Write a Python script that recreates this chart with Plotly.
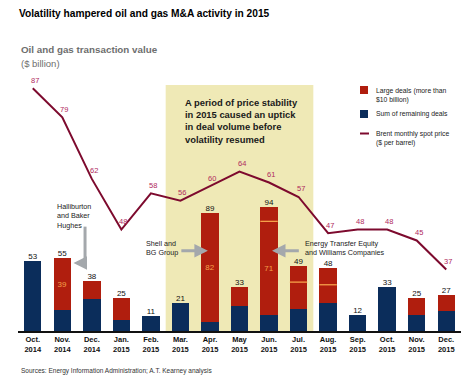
import plotly.graph_objects as go

months = ["Oct.<br>2014", "Nov.<br>2014", "Dec.<br>2014", "Jan.<br>2015", "Feb.<br>2015",
          "Mar.<br>2015", "Apr.<br>2015", "May<br>2015", "Jun.<br>2015", "Jul.<br>2015",
          "Aug.<br>2015", "Sep.<br>2015", "Oct.<br>2015", "Nov.<br>2015", "Dec.<br>2015"]
remaining = [53, 16, 24, 8, 11, 21, 7, 19, 12, 17, 21, 12, 33, 12, 15]
large_a = [0, 39, 14, 17, 0, 0, 82, 14, 71, 20, 14, 0, 0, 13, 12]
large_b = [0, 0, 0, 0, 0, 0, 0, 0, 11, 12, 13, 0, 0, 0, 0]
totals = [53, 55, 38, 25, 11, 21, 89, 33, 94, 49, 48, 12, 33, 25, 27]
deal_labels = ["", "39", "", "", "", "", "82", "", "71", "", "", "", "", "", ""]
brent = [87, 79, 62, 48, 58, 56, 60, 64, 61, 57, 47, 48, 48, 45, 37]

NAVY = "#0b2d5b"
RED = "#b01e0e"
ORANGE = "#f5a04a"
LINE = "#7d0a2e"
LINELBL = "#b02a5e"
GRAY = "#a4a8ac"
FONT = "Liberation Sans"

# plot-area pixel geometry helpers (for decorations only)
L, R, T, B = 18, 9, 80, 50
PW, PH = 470 - L - R, 381 - T - B


def px(xp):
    return (xp - L) / PW


def py(yp):
    return (381 - B - yp) / PH


x = list(range(len(months)))
BW = 0.59

fig = go.Figure()
fig.add_trace(go.Bar(x=x, y=remaining, marker_color=NAVY, width=BW, marker_line_width=0))
fig.add_trace(go.Bar(x=x, y=large_a, marker_color=RED, width=BW, marker_line_width=0,
                     text=deal_labels, textposition="inside", insidetextanchor="middle",
                     textfont=dict(color=ORANGE, size=8, family=FONT), textangle=0))
fig.add_trace(go.Bar(x=x, y=large_b, marker_color=RED, width=BW, marker_line_width=0))
fig.add_trace(go.Scatter(x=x, y=totals, mode="text", text=[str(t) for t in totals],
                         textposition="top center",
                         textfont=dict(color="#111111", size=8, family=FONT)))
fig.add_trace(go.Scatter(x=x, y=brent, yaxis="y2", mode="lines",
                         line=dict(color=LINE, width=2)))

shapes = []
shapes.append(dict(type="rect", xref="x", yref="paper", x0=5 - 0.5, x1=9 + 0.5, y0=0, y1=py(85),
                   fillcolor="#efe9b6", line_width=0, layer="below"))
for i in x:
    if large_b[i] > 0:
        yb = remaining[i] + large_a[i]
        shapes.append(dict(type="line", xref="x", yref="y", x0=i - BW / 2, x1=i + BW / 2,
                           y0=yb, y1=yb, line=dict(color=ORANGE, width=1.3)))
shapes.append(dict(type="line", xref="x", yref="y", x0=1.77, x1=1.77, y0=79, y1=51.5,
                   line=dict(color=GRAY, width=3)))
# manual legend swatches
shapes.append(dict(type="rect", xref="paper", yref="paper", x0=px(360), x1=px(368), y0=py(94), y1=py(86),
                   fillcolor=RED, line_width=0))
shapes.append(dict(type="rect", xref="paper", yref="paper", x0=px(360), x1=px(368), y0=py(118), y1=py(110),
                   fillcolor=NAVY, line_width=0))
shapes.append(dict(type="line", xref="paper", yref="paper", x0=px(360), x1=px(369), y0=py(133.5), y1=py(133.5),
                   line=dict(color=LINE, width=2)))

annotations = [
    dict(text="<b>Oil and gas transaction value</b>", xref="paper", yref="paper", x=px(19), y=py(49),
         xanchor="left", yanchor="middle", showarrow=False,
         font=dict(size=9.8, color="#6e6e6e", family=FONT)),
    dict(text="($ billion)", xref="paper", yref="paper", x=px(19), y=py(63),
         xanchor="left", yanchor="middle", showarrow=False,
         font=dict(size=9.5, color="#6e6e6e", family=FONT)),
    dict(text="<b>A period of price stability<br>in 2015 caused an uptick<br>in deal volume before<br>volatility resumed</b>",
         xref="paper", yref="paper", x=px(183), y=py(95), xanchor="left", yanchor="top",
         align="left", showarrow=False, font=dict(size=9.4, color="#1a1a1a", family=FONT)),
    dict(text="Halliburton<br>and Baker<br>Hughes", xref="x", yref="y", x=0.76, y=99,
         xanchor="left", yanchor="top", align="left", showarrow=False,
         font=dict(size=7.2, color="#222222", family=FONT)),
    dict(text="Shell and<br>BG Group", xref="x", yref="y", x=3.75, y=71,
         xanchor="left", yanchor="top", align="left", showarrow=False,
         font=dict(size=7.2, color="#222222", family=FONT)),
    dict(text="Energy Transfer Equity<br>and Williams Companies", xref="x", yref="y", x=9.15, y=71,
         xanchor="left", yanchor="top", align="left", showarrow=False,
         font=dict(size=7.2, color="#222222", family=FONT)),
    dict(text="", xref="x", yref="y", axref="x", ayref="y", x=1.38, y=51.5, ax=1.82, ay=51.5,
         showarrow=True, arrowhead=2, arrowsize=0.9, arrowwidth=3, arrowcolor=GRAY),
    dict(text="", xref="x", yref="y", axref="x", ayref="y", x=5.93, y=60.8, ax=4.98, ay=60.8,
         showarrow=True, arrowhead=2, arrowsize=0.9, arrowwidth=3, arrowcolor=GRAY),
    dict(text="", xref="x", yref="y", axref="x", ayref="y", x=8.1, y=60.8, ax=9.06, ay=60.8,
         showarrow=True, arrowhead=2, arrowsize=0.9, arrowwidth=3, arrowcolor=GRAY),
    dict(text="Sources: Energy Information Administration; A.T. Kearney analysis",
         xref="paper", yref="paper", x=px(19), y=py(371), xanchor="left", yanchor="middle",
         showarrow=False, font=dict(size=6.5, color="#333333", family=FONT)),
    # legend texts
    dict(text="Large deals (more than<br>$10 billion)", xref="paper", yref="paper", x=px(374), y=py(85),
         xanchor="left", yanchor="top", align="left", showarrow=False,
         font=dict(size=6.8, color="#222222", family=FONT)),
    dict(text="Sum of remaining deals", xref="paper", yref="paper", x=px(374), y=py(114),
         xanchor="left", yanchor="middle", align="left", showarrow=False,
         font=dict(size=6.8, color="#222222", family=FONT)),
    dict(text="Brent monthly spot price<br>($ per barrel)", xref="paper", yref="paper", x=px(374), y=py(128),
         xanchor="left", yanchor="top", align="left", showarrow=False,
         font=dict(size=6.8, color="#222222", family=FONT)),
]
# Brent price labels above each point
for i, v in zip(x, brent):
    annotations.append(dict(text=str(v), xref="x", yref="y2", x=i, y=v, yshift=8, xshift=2,
                            showarrow=False, font=dict(size=7.5, color=LINELBL, family=FONT)))

fig.update_layout(
    width=470, height=381,
    margin=dict(l=L, r=R, t=T, b=B),
    paper_bgcolor="white", plot_bgcolor="white",
    barmode="stack", showlegend=False, hovermode=False,
    font=dict(family=FONT, size=8, color="#222222"),
    title=dict(text="<b>Volatility hampered oil and gas M&A activity in 2015</b>",
               x=19 / 470, xanchor="left", xref="container",
               y=1 - 13 / 381, yanchor="middle", yref="container",
               font=dict(size=10.2, color="#000000", family=FONT)),
    xaxis=dict(tickvals=x, ticktext=months, range=[-0.5, len(x) - 0.5],
               showgrid=False, zeroline=False, showline=True, linecolor="#111111", linewidth=1.5,
               ticks="", tickfont=dict(size=7.5, color="#111111", family=FONT, weight="bold")),
    yaxis=dict(range=[0, 190], visible=False, showgrid=False),
    yaxis2=dict(range=[20, 89.3], overlaying="y", visible=False, showgrid=False),
    shapes=shapes,
    annotations=annotations,
)

fig.write_html("out.html", config={"displayModeBar": False},
               post_script="document.body.style.margin='0';document.body.style.padding='0';")
